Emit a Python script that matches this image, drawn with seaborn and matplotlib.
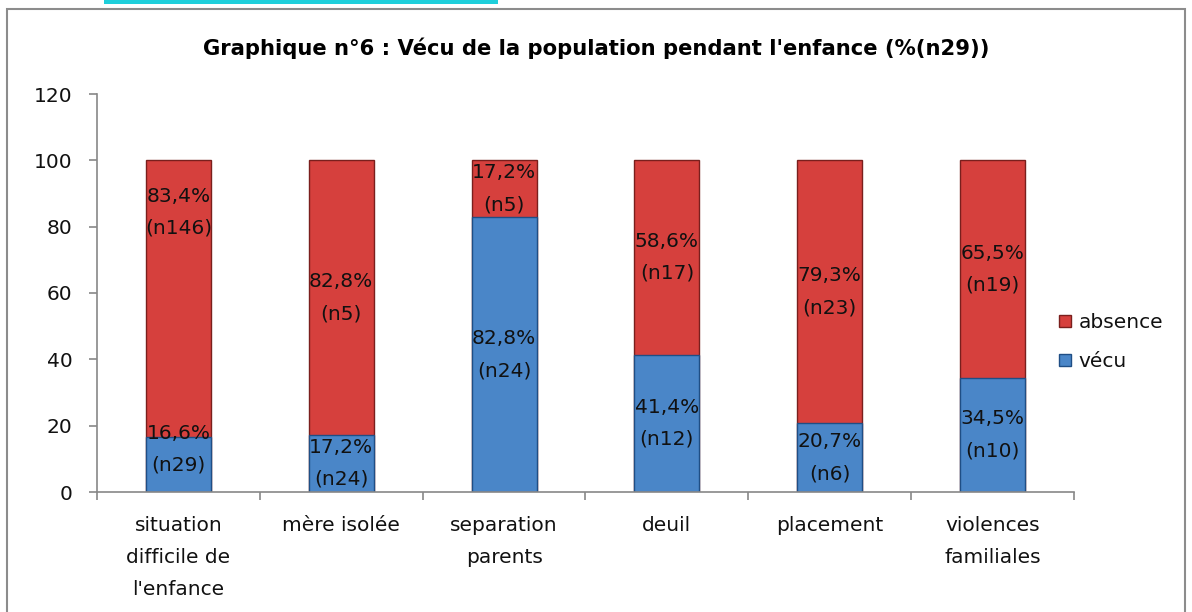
# Graphique n°6 : vécu de la population pendant l'enfance
import matplotlib
matplotlib.use("Agg")
import matplotlib.pyplot as plt
import seaborn as sns
import pandas as pd
from matplotlib.patches import Rectangle
from matplotlib.lines import Line2D

# data
categories = ["situation\ndifficile de\nl'enfance", "mère isolée", "separation\nparents",
              "deuil", "placement", "violences\nfamiliales"]
vecu = [16.6, 17.2, 82.8, 41.4, 20.7, 34.5]
absence = [83.4, 82.8, 17.2, 58.6, 79.3, 65.5]
n_vecu = [29, 24, 24, 12, 6, 10]
n_absence = [146, 5, 5, 17, 23, 19]

df = pd.DataFrame({"cat": categories, "vecu": vecu, "absence": absence})
df["total"] = df["vecu"] + df["absence"]

red = "#D6403D"
blue = "#4A86C8"
font = ["DejaVu Sans"]
fs = 14.5
ls = 1.85

sns.set_style("white")
plt.rcParams["font.family"] = font

fig = plt.figure(figsize=(11.92, 6.12), dpi=100)
ax = fig.add_axes([97 / 1192, 1 - 492 / 612, 977 / 1192, 398 / 612])

# stacked bars: red total behind, blue vécu in front
sns.barplot(data=df, x="cat", y="total", color=red, width=0.4, saturation=1,
            edgecolor="#7A1F1D", linewidth=1, ax=ax)
sns.barplot(data=df, x="cat", y="vecu", color=blue, width=0.4, saturation=1,
            edgecolor="#1F4E85", linewidth=1, ax=ax)


def fmt(v, n):
    return f"{v:.1f}".replace(".", ",") + f"%\n(n{n})"


# the first bar's labels were moved by hand in the original
shift_abs = [26, 0, 0, 0, 0, 0]
shift_vec = [4.5, 0, 0, 0, 0, 0]
for i in range(len(categories)):
    ax.text(i, vecu[i] / 2 + shift_vec[i], fmt(vecu[i], n_vecu[i]), ha="center", va="center",
            fontsize=fs, linespacing=ls, color="#111111")
    ax.text(i, vecu[i] + absence[i] / 2 + shift_abs[i], fmt(absence[i], n_absence[i]),
            ha="center", va="center", fontsize=fs, linespacing=ls, color="#111111")

ax.set_ylim(0, 120)
ax.set_xlim(-0.5, len(categories) - 0.5)
ax.set_yticks(range(0, 121, 20))
ax.set_xlabel("")
ax.set_ylabel("")
for s in ["top", "right"]:
    ax.spines[s].set_visible(False)
for s in ["left", "bottom"]:
    ax.spines[s].set_color("#888888")
    ax.spines[s].set_linewidth(1.2)
ax.tick_params(axis="y", left=True, length=5.5, width=1.2, color="#888888", pad=12,
               labelsize=fs, labelcolor="#111111")
ax.set_xticks([x - 0.5 for x in range(len(categories) + 1)], minor=True)
ax.tick_params(axis="x", which="minor", bottom=True, length=6, width=1.2, color="#888888")
ax.tick_params(axis="x", which="major", bottom=False, pad=14, labelsize=fs, labelcolor="#111111")
for lab in ax.get_xticklabels():
    lab.set_linespacing(ls)
    lab.set_va("top")

fig.suptitle("Graphique n°6 : Vécu de la population pendant l'enfance (%(n29))",
             x=0.5, y=1 - 48 / 612, va="center", fontsize=15.2, fontweight="bold",
             color="black")

handles = [Line2D([], [], marker="s", ls="", markersize=9, markerfacecolor=red,
                  markeredgecolor="#7A1F1D"),
           Line2D([], [], marker="s", ls="", markersize=9, markerfacecolor=blue,
                  markeredgecolor="#1F4E85")]
fig.legend(handles, ["absence", "vécu"], loc="center left",
           bbox_to_anchor=(1040 / 1192, 1 - 342 / 612), frameon=False, fontsize=fs,
           handlelength=0.7, handletextpad=0.3, labelspacing=1.0, labelcolor="#111111")

# chart frame and the cyan strip above it
fig.patches.append(Rectangle((7 / 1192, -0.05), 1178 / 1192, 1.05 - 9 / 612,
                             transform=fig.transFigure, fill=False, edgecolor="#8C8C8C",
                             linewidth=1.5))
fig.patches.append(Rectangle((104 / 1192, 1 - 4 / 612), 394 / 1192, 4 / 612,
                             transform=fig.transFigure, facecolor="#1FCFDB", edgecolor="none"))

fig.savefig("out.png", dpi=100)
